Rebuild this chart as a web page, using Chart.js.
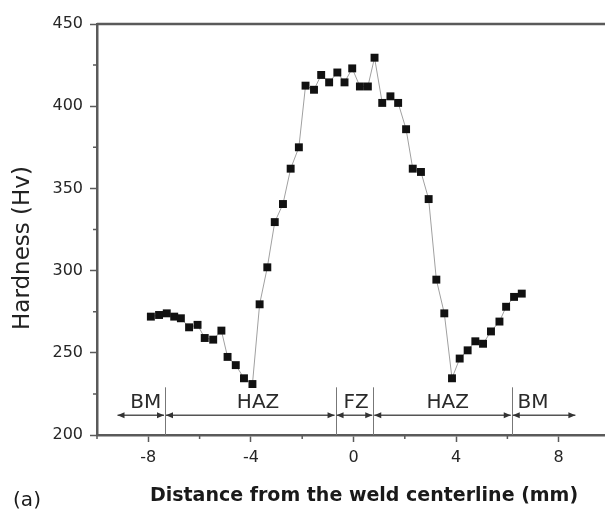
<!DOCTYPE html>
<html lang="en">
<head>
  <meta charset="UTF-8" />
  <title>Hardness profile</title>
  <script src="https://cdn.jsdelivr.net/npm/chart.js"></script>
  <style>
    html, body { margin: 0; padding: 0; background: #fff; overflow: hidden; }
    #wrap { width: 605px; height: 509px; overflow: hidden; }
    canvas { display: block; }
  </style>
</head>
<body>
  <div id="wrap">
    <canvas id="hardnessChart" width="620" height="509"></canvas>
  </div>

  <script>
    // hardness traverse across the weld (mm from centerline, Hv)
    const distance = [-7.9, -7.58, -7.28, -6.99, -6.73, -6.41, -6.08, -5.80, -5.47, -5.15,
      -4.91, -4.59, -4.27, -3.94, -3.66, -3.36, -3.07, -2.75, -2.45, -2.13,
      -1.87, -1.54, -1.26, -0.95, -0.63, -0.35, -0.05, 0.25, 0.56, 0.82,
      1.12, 1.44, 1.74, 2.05, 2.31, 2.63, 2.93, 3.23, 3.54, 3.84,
      4.14, 4.45, 4.75, 5.05, 5.36, 5.69, 5.95, 6.26, 6.56];
    const hardness = [272, 273, 274, 272, 271, 265.5, 267, 259, 258, 263.5,
      247.5, 242.5, 234.5, 231, 279.5, 302, 329.5, 340.5, 362, 375,
      412.5, 410, 419, 414.5, 420.5, 414.5, 423, 412, 412, 429.5,
      402, 406, 402, 386, 362, 360, 343.5, 294.5, 274, 234.5,
      246.5, 251.5, 257, 255.5, 263, 269, 278, 284, 286];

    const xMajor = [-8, -4, 0, 4, 8];
    const xMinor = [-10, -6, -2, 2, 6, 10];
    const yMajor = [200, 250, 300, 350, 400, 450];
    const yMinor = [225, 275, 325, 375, 425];

    // zone boundaries along the traverse (mm) and their labels
    const zoneEdges = [-9.2, -7.35, -0.7, 0.77, 6.17, 8.65];
    const zoneNames = ['BM', 'HAZ', 'FZ', 'HAZ', 'BM'];
    const zoneLabelAt = [-8.1, -3.72, 0.1, 3.67, 7.0];

    const AXIS = '#5a5a5a';
    const FONT = '"DejaVu Sans", Verdana, sans-serif';

    function arrowHead(ctx, x, y, dir) {
      ctx.beginPath();
      ctx.moveTo(x, y);
      ctx.lineTo(x - dir * 7, y - 3);
      ctx.lineTo(x - dir * 7, y + 3);
      ctx.closePath();
      ctx.fill();
    }

    const extras = {
      id: 'extras',
      afterDraw(chart) {
        const { ctx, chartArea: area, scales: { x, y } } = chart;
        ctx.save();

        // top frame line
        ctx.strokeStyle = AXIS;
        ctx.lineWidth = 2.5;
        ctx.beginPath();
        ctx.moveTo(area.left, area.top);
        ctx.lineTo(area.right + 2, area.top);
        ctx.stroke();

        // minor ticks
        ctx.lineWidth = 1.5;
        ctx.beginPath();
        xMinor.forEach(v => {
          const px = x.getPixelForValue(v);
          ctx.moveTo(px, area.bottom);
          ctx.lineTo(px, area.bottom + 4);
        });
        yMinor.forEach(v => {
          const py = y.getPixelForValue(v);
          ctx.moveTo(area.left, py);
          ctx.lineTo(area.left - 4, py);
        });
        ctx.stroke();

        // zone separators and arrows
        const arrowY = y.getPixelForValue(212);
        const sepTop = y.getPixelForValue(229);
        ctx.strokeStyle = '#777';
        ctx.lineWidth = 1;
        ctx.beginPath();
        zoneEdges.slice(1, -1).forEach(v => {
          const px = Math.round(x.getPixelForValue(v)) + 0.5;
          ctx.moveTo(px, sepTop);
          ctx.lineTo(px, area.bottom);
        });
        ctx.stroke();

        ctx.strokeStyle = '#555';
        ctx.fillStyle = '#333';
        ctx.lineWidth = 1.5;
        for (let i = 0; i < zoneNames.length; i++) {
          const a = x.getPixelForValue(zoneEdges[i]) + (i > 0 ? 1 : 0);
          const b = x.getPixelForValue(zoneEdges[i + 1]) - (i < zoneNames.length - 1 ? 1 : 0);
          ctx.beginPath();
          ctx.moveTo(a, arrowY);
          ctx.lineTo(b, arrowY);
          ctx.stroke();
          arrowHead(ctx, a, arrowY, -1);
          arrowHead(ctx, b, arrowY, 1);
        }

        ctx.fillStyle = '#2a2a2a';
        ctx.font = '20px ' + FONT;
        ctx.textAlign = 'center';
        ctx.textBaseline = 'middle';
        const labelY = y.getPixelForValue(219.8);
        zoneNames.forEach((name, i) => {
          ctx.fillText(name, x.getPixelForValue(zoneLabelAt[i]), labelY);
        });

        // axis titles
        ctx.fillStyle = '#1a1a1a';
        ctx.font = 'bold 19px ' + FONT;
        ctx.fillText('Distance from the weld centerline (mm)', 364, 496);

        ctx.font = '20px ' + FONT;
        ctx.fillText('(a)', 27, 501);

        ctx.save();
        ctx.translate(23, 248);
        ctx.rotate(-Math.PI / 2);
        ctx.font = '23px ' + FONT;
        ctx.fillStyle = '#222';
        ctx.fillText('Hardness (Hv)', 0, 0);
        ctx.restore();

        ctx.restore();
      }
    };

    new Chart(document.getElementById('hardnessChart'), {
      type: 'line',
      data: {
        datasets: [{
          data: distance.map((d, i) => ({ x: d, y: hardness[i] })),
          borderColor: '#a0a0a0',
          borderWidth: 1,
          tension: 0,
          pointStyle: 'rect',
          pointRadius: 5.6,
          pointBorderWidth: 0,
          pointBackgroundColor: '#111',
          pointBorderColor: '#111'
        }]
      },
      options: {
        responsive: false,
        animation: false,
        devicePixelRatio: 1,
        layout: { padding: { top: 24, right: 10, left: 0, bottom: 0 } },
        plugins: {
          legend: { display: false },
          tooltip: { enabled: false }
        },
        scales: {
          x: {
            type: 'linear',
            min: -10,
            max: 10,
            afterBuildTicks: s => { s.ticks = xMajor.map(v => ({ value: v })); },
            afterFit: s => { s.height = 74; },
            grid: { drawOnChartArea: false, tickLength: 7, tickColor: AXIS, tickWidth: 1.5 },
            border: { color: AXIS, width: 2.5 },
            ticks: { font: { family: FONT, size: 16 }, color: '#262626', padding: 6, maxRotation: 0 }
          },
          y: {
            min: 200,
            max: 450,
            afterBuildTicks: s => { s.ticks = yMajor.map(v => ({ value: v })); },
            afterFit: s => { s.width = 97; },
            grid: { drawOnChartArea: false, tickLength: 7, tickColor: AXIS, tickWidth: 1.5 },
            border: { color: AXIS, width: 2.5 },
            ticks: { font: { family: FONT, size: 16 }, color: '#262626', padding: 7 }
          }
        }
      },
      plugins: [extras]
    });
  </script>
</body>
</html>
